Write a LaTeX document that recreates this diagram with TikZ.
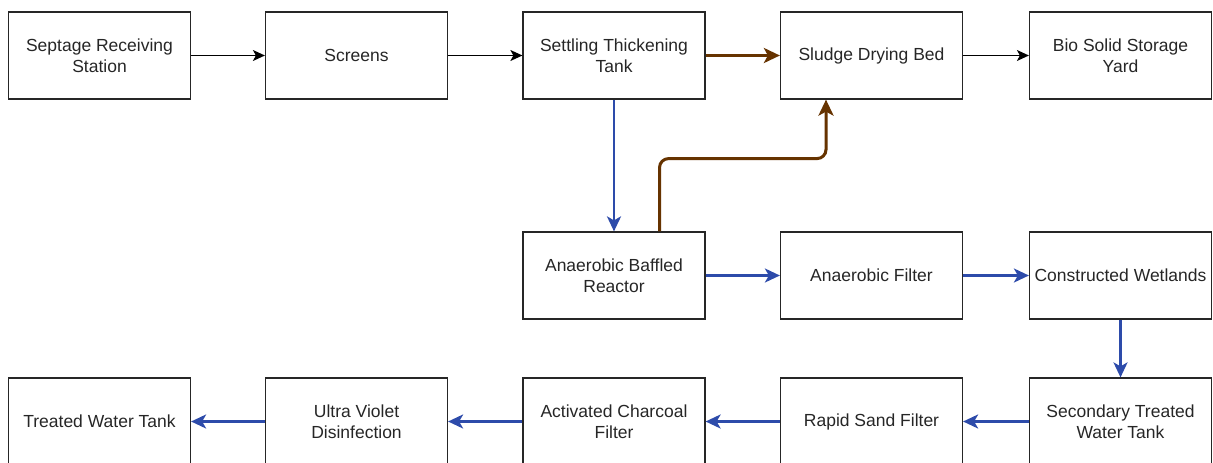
\documentclass[tikz,border=0pt]{standalone}
\usepackage{fontspec}
\setmainfont{Liberation Sans}
\usetikzlibrary{arrows.meta, positioning}

\definecolor{sludgebrown}{RGB}{102,51,0}
\definecolor{waterblue}{RGB}{45,75,170}

\tikzset{
    unit/.style={draw=black!85, line width=1.2pt, minimum width=182pt, minimum height=87pt,
        inner xsep=2pt, align=center, text=black!85, font=\fontsize{17.5}{21}\selectfont},
    flow/.style={-{Stealth[length=12pt,width=11pt,inset=3pt]}, line width=1.2pt, black},
    sludge/.style={-{Stealth[length=16pt,width=15pt,inset=4pt]}, line width=3pt, sludgebrown},
    water/.style={-{Stealth[length=15pt,width=14pt,inset=4pt]}, line width=2.6pt, waterblue}
}

\begin{document}
\begin{tikzpicture}[on grid, x=1pt, y=1pt]
    \useasboundingbox (0,0) rectangle (1213,-463);
    \clip (0,0) rectangle (1213,-463);

    % top row
    \node[unit] (septage) at (99.5,-55.5) {Septage Receiving\\Station};
    \node[unit] (screens) [right=257pt of septage] {Screens};
    \node[unit] (settling) [right=257.5pt of screens] {Settling Thickening\\Tank};
    \node[unit] (drying) [right=257.5pt of settling] {Sludge Drying Bed};
    \node[unit] (storage) [right=249pt of drying] {Bio Solid Storage\\Yard};

    % middle row
    \node[unit] (abr) [below=220pt of settling] {Anaerobic Baffled\\Reactor};
    \node[unit] (anfilter) [below=220pt of drying] {Anaerobic Filter};
    \node[unit] (wetlands) [below=220pt of storage] {Constructed Wetlands};

    % bottom row
    \node[unit] (secondary) [below=146pt of wetlands] {Secondary Treated\\Water Tank};
    \node[unit] (sandfilter) [left=249pt of secondary] {Rapid Sand Filter};
    \node[unit] (charcoal) [left=257.5pt of sandfilter] {Activated Charcoal\\Filter};
    \node[unit] (uv) [left=257.5pt of charcoal] {Ultra Violet\\Disinfection};
    \node[unit] (treated) [left=257pt of uv] {Treated Water Tank};

    \draw[flow] (septage) -- (screens);
    \draw[flow] (screens) -- (settling);
    \draw[sludge] (settling) -- (drying);
    \draw[flow] (drying) -- (storage);

    \draw[water] (settling) -- (abr);
    \draw[sludge, rounded corners=9pt] ([xshift=45.5pt]abr.north)
        |- ([xshift=-45.5pt,yshift=-59pt]drying.south) -- ([xshift=-45.5pt]drying.south);

    \draw[water] (abr) -- (anfilter);
    \draw[water] (anfilter) -- (wetlands);
    \draw[water] (wetlands) -- (secondary);
    \draw[water] (secondary) -- (sandfilter);
    \draw[water] (sandfilter) -- (charcoal);
    \draw[water] (charcoal) -- (uv);
    \draw[water] (uv) -- (treated);
\end{tikzpicture}
\end{document}
